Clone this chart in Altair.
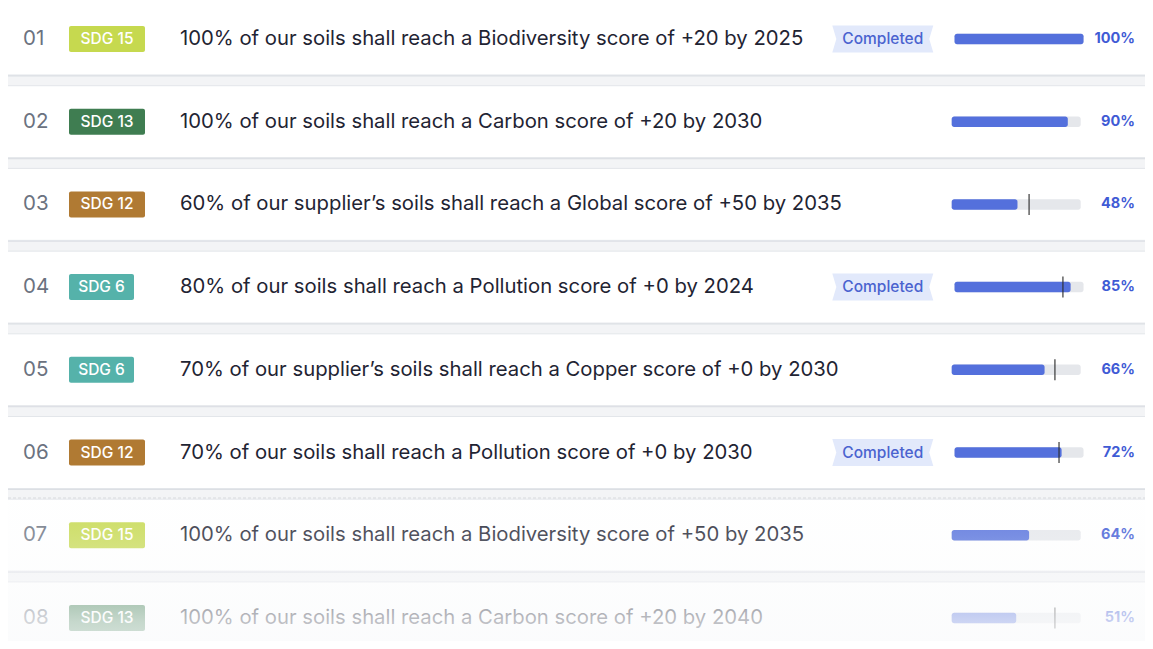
import altair as alt
import pandas as pd

# ---------------- data ----------------
row_ids = ["01", "02", "03", "04", "05", "06", "07", "08"]
sdg_labels = ["SDG 15", "SDG 13", "SDG 12", "SDG 6", "SDG 6", "SDG 12", "SDG 15", "SDG 13"]
goal_texts = [
    "100% of our soils shall reach a Biodiversity score of +20 by 2025",
    "100% of our soils shall reach a Carbon score of +20 by 2030",
    "60% of our supplier\u2019s soils shall reach a Global score of +50 by 2035",
    "80% of our soils shall reach a Pollution score of +0 by 2024",
    "70% of our supplier\u2019s soils shall reach a Copper score of +0 by 2030",
    "70% of our soils shall reach a Pollution score of +0 by 2030",
    "100% of our soils shall reach a Biodiversity score of +50 by 2035",
    "100% of our soils shall reach a Carbon score of +20 by 2040",
]
is_completed = [True, False, False, True, False, True, False, False]
bar_progress = [100, 90, 51, 90, 72, 83, 60, 50]
pct_labels = ["100%", "90%", "48%", "85%", "66%", "72%", "64%", "51%"]
target_marks = [None, None, 60, 84, 80, 81, None, 80]

sdg_domain = ["SDG 15", "SDG 13", "SDG 12", "SDG 6"]
sdg_colors = ["#c6d94f", "#3f7d51", "#b07a33", "#55b2aa"]

df = pd.DataFrame({
    "row": row_ids,
    "sdg": sdg_labels,
    "goal": goal_texts,
    "completed": is_completed,
    "progress": bar_progress,
    "pct": pct_labels,
    "target": target_marks,
})

# ---------------- layout (chart coords = page coords - 8px margin) ----------------
W, H = 1137, 633
STEP = 82.7
Y0 = 31 - STEP / 2
TEXT_FONT = "Inter"

yscale = alt.Scale(domain=row_ids, range=[Y0, Y0 + 8 * STEP],
                   paddingInner=0.13, paddingOuter=0.065)
Y = alt.Y("row:N", scale=yscale, axis=None)
xscale = alt.Scale(domain=[0, 100], range=[943.7, 1072.7], nice=False, zero=False)

base = alt.Chart(df)

shadow = base.mark_rect(color="#dcdfe4", cornerRadius=5, yOffset=1.5).encode(
    x=alt.value(-6), x2=alt.value(1160), y=Y)
card = base.mark_rect(fill="white", stroke="#e3e6ea", strokeWidth=1, cornerRadius=5).encode(
    x=alt.value(-6), x2=alt.value(1160), y=Y)

number = base.mark_text(align="left", baseline="middle", font=TEXT_FONT, fontSize=20.5,
                        color="#6b7280").encode(x=alt.value(15), y=Y, text="row:N")

badge_color = alt.Color("sdg:N", scale=alt.Scale(domain=sdg_domain, range=sdg_colors), legend=None)
badge_long = base.transform_filter("length(datum.sdg) > 5").mark_bar(
    height=26, cornerRadius=2).encode(x=alt.value(61), x2=alt.value(137), y=Y, color=badge_color)
badge_short = base.transform_filter("length(datum.sdg) <= 5").mark_bar(
    height=26, cornerRadius=2).encode(x=alt.value(61), x2=alt.value(126), y=Y, color=badge_color)
badge_text_long = base.transform_filter("length(datum.sdg) > 5").mark_text(
    font=TEXT_FONT, fontSize=15.5, fontWeight=500, color="white", baseline="middle").encode(
    x=alt.value(99), y=Y, text="sdg:N")
badge_text_short = base.transform_filter("length(datum.sdg) <= 5").mark_text(
    font=TEXT_FONT, fontSize=15.5, fontWeight=500, color="white", baseline="middle").encode(
    x=alt.value(93.5), y=Y, text="sdg:N")

goal = base.mark_text(align="left", baseline="middle", font=TEXT_FONT, fontSize=20.3,
                      color="#1f2433").encode(x=alt.value(172), y=Y, text="goal:N")

RIBBON = "M-1,-0.267L1,-0.267L0.92,0L1,0.267L-1,0.267L-0.92,0Z"
tag = base.transform_filter("datum.completed").mark_point(
    shape=RIBBON, size=101 * 101, filled=True, color="#e2e9fb", opacity=1, strokeWidth=0).encode(
    x=alt.value(874.8), y=Y)
tag_text = base.transform_filter("datum.completed").mark_text(
    text="Completed", font=TEXT_FONT, fontSize=15.5, fontWeight=500, color="#4a63cf",
    baseline="middle").encode(x=alt.value(874.8), y=Y)

bars = base.transform_calculate(
    shift="datum.completed ? 2.2 : 0",
    x0="datum.shift",
    x1="100 + datum.shift",
    xf="datum.progress + datum.shift",
    xt="datum.target == null ? null : datum.target + datum.shift",
)
track = bars.mark_bar(height=10.5, cornerRadius=2.5, color="#e5e7eb").encode(
    x=alt.X("x0:Q", scale=xscale, axis=None), x2="x1:Q", y=Y)
fill = bars.mark_bar(height=10.5, cornerRadius=2.5, color="#5470dc").encode(
    x=alt.X("x0:Q", scale=xscale, axis=None), x2="xf:Q", y=Y)
tick = bars.transform_filter("isValid(datum.target)").mark_tick(
    size=21, thickness=1.6, color="#2b2b2b").encode(
    x=alt.X("xt:Q", scale=xscale, axis=None), y=Y)

pct = base.mark_text(align="right", baseline="middle", font=TEXT_FONT, fontWeight="bold",
                     fontSize=14.5, color="#3f5bd5").encode(x=alt.value(1127), y=Y, text="pct:N")

one = pd.DataFrame({"k": [0]})
dash = alt.Chart(one).mark_rule(strokeDash=[3, 2], color="#d3d6db", strokeWidth=1).encode(
    x=alt.value(-10), x2=alt.value(1160), y=alt.value(490))

fade = alt.Chart(one).mark_rect(
    color=alt.Gradient(
        gradient="linear",
        stops=[
            alt.GradientStop(color="rgba(250,251,252,0.08)", offset=0),
            alt.GradientStop(color="rgba(250,251,252,0.22)", offset=0.25),
            alt.GradientStop(color="rgba(250,251,252,0.45)", offset=0.55),
            alt.GradientStop(color="rgba(250,251,252,0.72)", offset=0.8),
            alt.GradientStop(color="rgba(250,251,252,0.85)", offset=1),
        ],
        x1=0, x2=0, y1=0, y2=1,
    )
).encode(x=alt.value(-10), x2=alt.value(1160), y=alt.value(489), y2=alt.value(645))

chart = alt.layer(
    shadow, card, number, badge_long, badge_short, badge_text_long, badge_text_short,
    goal, tag, tag_text, track, fill, tick, pct, dash, fade,
).properties(
    width=W, height=H, autosize=alt.AutoSizeParams(type="none"), padding=0,
    background="#f3f4f6",
).configure_view(strokeWidth=0)

chart.save("out.html", embed_options={"renderer": "svg", "actions": False})
